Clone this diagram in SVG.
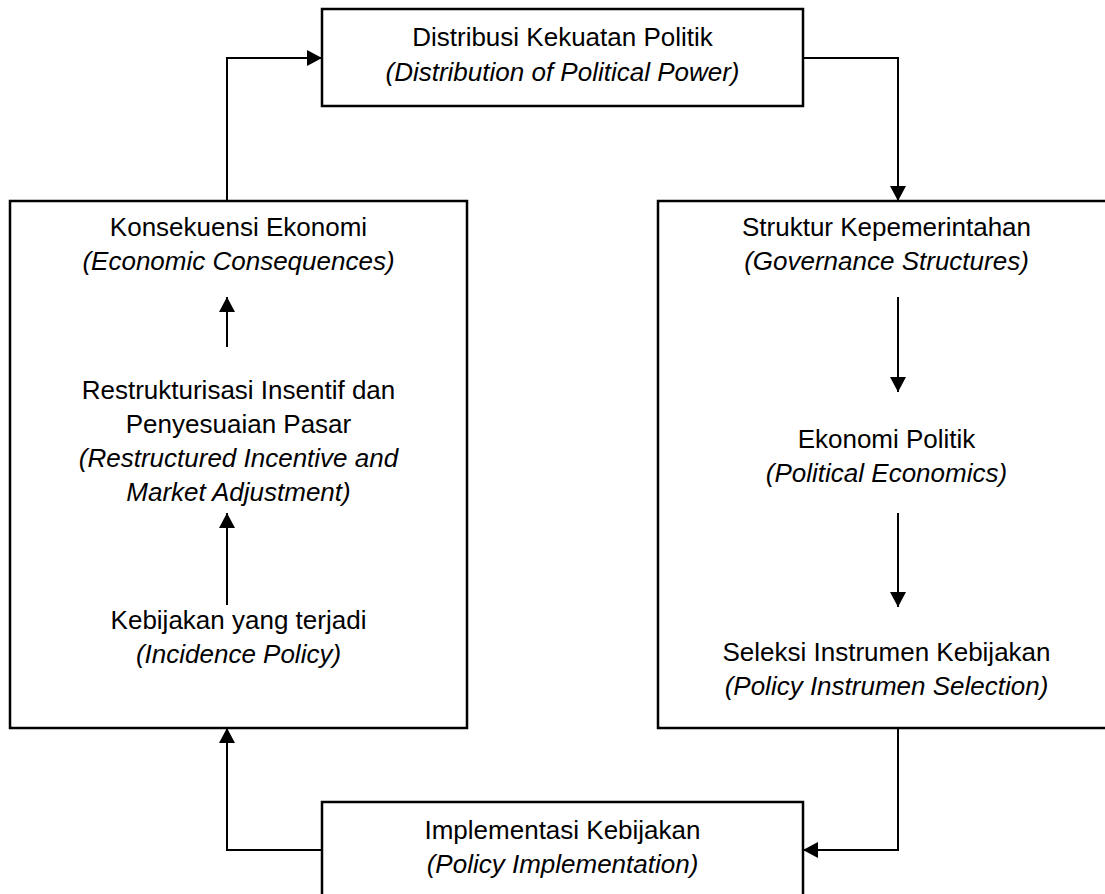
<svg xmlns="http://www.w3.org/2000/svg" width="1105" height="894" viewBox="0 0 1105 894">
<style>
.box{fill:#fff;stroke:#000;stroke-width:2.5}
.t{font-family:"Liberation Sans",Arial,sans-serif;font-size:26px;fill:#000;text-anchor:middle}
.i{font-style:italic}
.c{fill:none;stroke:#000;stroke-width:2}
</style>
<defs>
<marker id="ah" viewBox="0 0 15 16" refX="15" refY="8" markerWidth="15" markerHeight="16" markerUnits="userSpaceOnUse" orient="auto">
<path d="M0,0 L15,8 L0,16 z" fill="#000"/>
</marker>
</defs>
<rect width="1105" height="894" fill="#fff"/>
<g id="top">
<rect class="box" x="322" y="9" width="481" height="97"/>
<text class="t" x="562.5" y="46">Distribusi Kekuatan Politik</text>
<text class="t i" x="562.5" y="81">(Distribution of Political Power)</text>
</g>
<g id="left">
<rect class="box" x="10" y="201" width="457" height="527"/>
<text class="t" x="238.5" y="236">Konsekuensi Ekonomi</text>
<text class="t i" x="238.5" y="270">(Economic Consequences)</text>
<text class="t" x="238.5" y="399">Restrukturisasi Insentif dan</text>
<text class="t" x="238.5" y="433">Penyesuaian Pasar</text>
<text class="t i" x="238.5" y="467">(Restructured Incentive and</text>
<text class="t i" x="238.5" y="501">Market Adjustment)</text>
<text class="t" x="238.5" y="629">Kebijakan yang terjadi</text>
<text class="t i" x="238.5" y="663">(Incidence Policy)</text>
</g>
<g id="right">
<rect class="box" x="658" y="201" width="457" height="527"/>
<text class="t" x="886.5" y="236">Struktur Kepemerintahan</text>
<text class="t i" x="886.5" y="270">(Governance Structures)</text>
<text class="t" x="886.5" y="448">Ekonomi Politik</text>
<text class="t i" x="886.5" y="482">(Political Economics)</text>
<text class="t" x="886.5" y="661">Seleksi Instrumen Kebijakan</text>
<text class="t i" x="886.5" y="695">(Policy Instrumen Selection)</text>
</g>
<g id="bottom">
<rect class="box" x="322" y="802" width="481" height="97"/>
<text class="t" x="562.5" y="839">Implementasi Kebijakan</text>
<text class="t i" x="562.5" y="873">(Policy Implementation)</text>
</g>
<g id="connectors">
<path class="c" d="M227,201 V58 H322" marker-end="url(#ah)"/>
<path class="c" d="M803,58 H898 V201" marker-end="url(#ah)"/>
<path class="c" d="M898,728 V850 H803" marker-end="url(#ah)"/>
<path class="c" d="M322,850 H227 V728" marker-end="url(#ah)"/>
<path class="c" d="M227,347 V297" marker-end="url(#ah)"/>
<path class="c" d="M227,605 V513" marker-end="url(#ah)"/>
<path class="c" d="M898,297 V392" marker-end="url(#ah)"/>
<path class="c" d="M898,513 V607" marker-end="url(#ah)"/>
</g>
</svg>
